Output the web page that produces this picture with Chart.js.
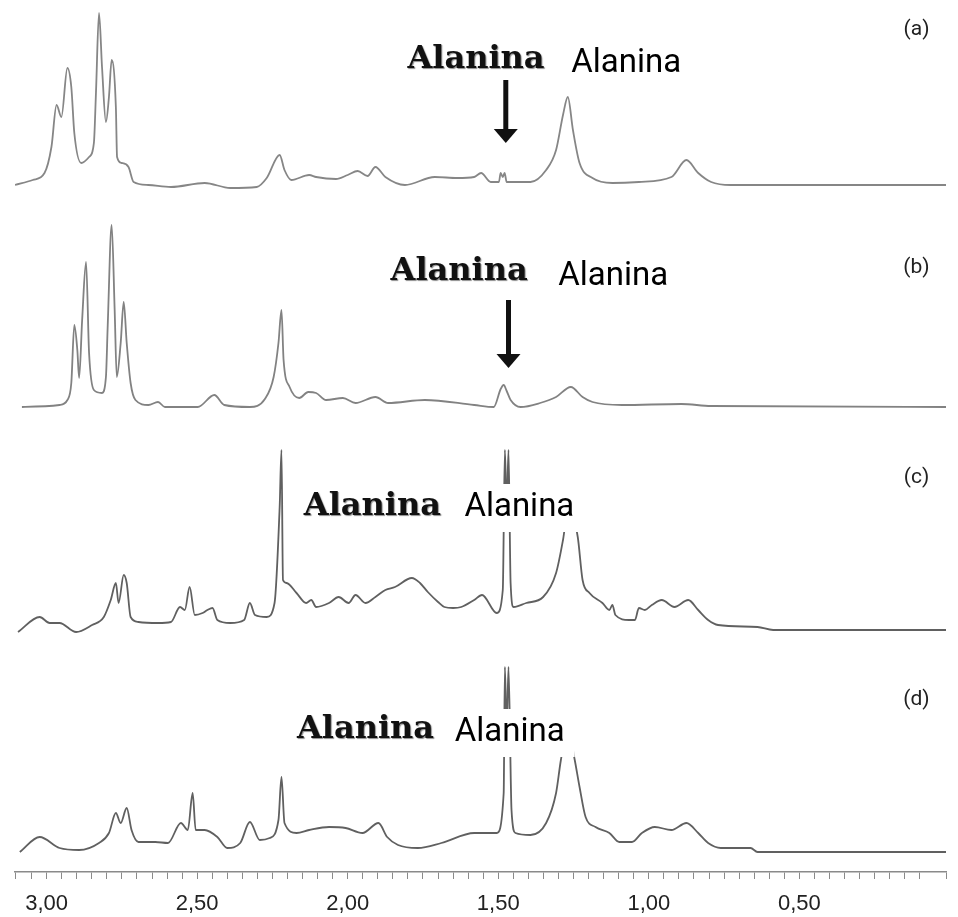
<!DOCTYPE html>
<html>
<head>
<meta charset="utf-8">
<style>
  html, body { margin: 0; padding: 0; background: #fff; }
</style>
<script src="https://cdn.jsdelivr.net/npm/chart.js@4.4.1/dist/chart.umd.min.js"></script>
</head>
<body>
<canvas id="spectra" width="958" height="917"></canvas>
<script>
// chemical shift (ppm) and intensity above each trace's own baseline

var ppmA = [3.105,3.046,3.007,2.984,2.967,2.951,2.931,2.918,2.908,2.885,2.859,2.843,2.836,2.826,2.816,2.803,2.793,2.784,2.770,2.766,2.751,2.728,2.711,2.662,2.587,2.475,2.390,2.302,2.269,2.226,2.210,2.187,2.128,2.105,2.039,2.000,1.967,1.934,1.908,1.875,1.810,1.711,1.636,1.580,1.557,1.525,1.498,1.492,1.485,1.479,1.472,1.393,1.341,1.308,1.285,1.269,1.252,1.230,1.187,1.121,1.033,0.925,0.875,0.836,0.793,0.728,0.013];
var intA = [0,5,12,38,80,68,117,98,52,22,28,42,93,172,118,63,88,125,78,28,22,18,3,0,-2,2,-3,-2,7,30,15,5,10,8,6,10,14,9,18,8,0,8,7,8,12,3,3,12,8,12,3,3,15,35,70,88,55,22,7,2,3,8,25,12,3,0,0];

var ppmB = [3.082,2.957,2.931,2.918,2.908,2.898,2.892,2.882,2.869,2.859,2.843,2.816,2.803,2.797,2.784,2.774,2.767,2.754,2.744,2.734,2.721,2.705,2.662,2.630,2.607,2.498,2.443,2.410,2.325,2.275,2.246,2.230,2.220,2.213,2.193,2.161,2.131,2.105,2.072,2.016,1.974,1.908,1.866,1.744,1.580,1.515,1.492,1.482,1.472,1.459,1.426,1.361,1.308,1.259,1.220,1.187,1.089,0.892,0.793,0.013];
var intB = [0,2,7,24,82,57,29,87,145,54,17,14,30,82,182,97,30,64,105,64,24,7,2,5,0,0,12,2,0,8,30,64,97,47,20,9,15,14,7,9,4,10,4,7,2,0,18,22,16,7,0,4,10,20,10,5,2,3,1,0];

var ppmC = [3.095,3.023,2.990,2.957,2.902,2.849,2.810,2.787,2.770,2.761,2.744,2.734,2.721,2.695,2.630,2.587,2.557,2.541,2.525,2.508,2.482,2.466,2.449,2.433,2.390,2.344,2.325,2.308,2.269,2.243,2.226,2.220,2.215,2.203,2.170,2.138,2.121,2.105,2.062,2.030,1.997,1.974,1.941,1.908,1.875,1.843,1.787,1.760,1.734,1.700,1.679,1.650,1.623,1.580,1.554,1.505,1.485,1.478,1.472,1.466,1.459,1.449,1.407,1.351,1.308,1.285,1.266,1.236,1.220,1.197,1.154,1.131,1.121,1.111,1.066,1.046,1.033,1.013,0.990,0.957,0.915,0.869,0.836,0.803,0.770,0.639,0.587,0.013];
var intC = [-2,13,7,7,-2,5,13,30,47,27,55,47,13,8,7,8,23,20,43,15,17,20,22,10,7,10,27,15,13,27,123,180,50,47,37,27,30,23,27,33,27,35,27,33,40,43,52,47,38,28,23,22,23,30,35,17,40,180,120,180,47,23,27,33,57,90,125,93,50,37,27,20,25,15,10,10,22,20,25,30,23,30,20,10,5,3,0,0];

var ppmD = [3.089,3.023,2.957,2.892,2.826,2.793,2.770,2.754,2.734,2.718,2.695,2.639,2.597,2.554,2.531,2.515,2.505,2.475,2.433,2.400,2.357,2.325,2.292,2.259,2.230,2.220,2.210,2.170,2.128,2.062,2.007,1.951,1.898,1.869,1.833,1.767,1.689,1.580,1.505,1.482,1.478,1.472,1.466,1.456,1.443,1.393,1.341,1.308,1.292,1.269,1.246,1.230,1.210,1.177,1.131,1.098,1.056,1.023,0.980,0.925,0.875,0.836,0.803,0.761,0.662,0.639,0.013];
var intD = [0,15,4,2,9,19,39,29,44,22,10,10,9,29,22,59,22,22,15,4,9,30,12,14,32,75,29,19,22,25,24,19,29,15,7,4,9,19,19,59,185,120,185,42,19,17,29,59,92,125,92,65,35,25,19,10,10,19,25,22,29,19,9,4,4,0,0];

var panelNames = ['(a)', '(b)', '(c)', '(d)'];
var peakName = 'Alanina';
var alaninePpm = [1.475, 1.466];   // arrows in (a) and (b)

// vertical stacking of the four traces (intensity units)
var offsets = [687, 465, 242, 20];

function toPoints(xs, ys, off) {
  return xs.map(function (x, i) { return { x: x, y: ys[i] + off }; });
}

var annotations = {
  id: 'annotations',
  afterDatasetsDraw: function (chart) {
    var ctx = chart.ctx;
    var sx = chart.scales.x, sy = chart.scales.y;
    var px = function (v) { return sx.getPixelForValue(v); };
    var py = function (v) { return sy.getPixelForValue(v); };
    ctx.save();

    // arrows pointing at the alanine doublet
    var arrows = [[alaninePpm[0], 792, 729], [alaninePpm[1], 572, 504]];
    ctx.fillStyle = '#111';
    ctx.strokeStyle = '#111';
    arrows.forEach(function (a) {
      var x = px(a[0]), y1 = py(a[1]), y2 = py(a[2]);
      ctx.lineWidth = 5;
      ctx.beginPath();
      ctx.moveTo(x, y1);
      ctx.lineTo(x, y2 - 10);
      ctx.stroke();
      ctx.beginPath();
      ctx.moveTo(x - 12, y2 - 14);
      ctx.lineTo(x + 12, y2 - 14);
      ctx.lineTo(x, y2);
      ctx.closePath();
      ctx.fill();
    });

    // bold serif labels
    var serif = [[1.574, 812], [1.630, 600], [1.918, 365], [1.941, 142]];
    ctx.font = 'bold 32px "DejaVu Serif"';
    ctx.textAlign = 'center';
    ctx.textBaseline = 'middle';
    ctx.shadowColor = 'rgba(0,0,0,0.45)';
    ctx.shadowOffsetX = 1;
    ctx.shadowOffsetY = 1;
    ctx.shadowBlur = 1;
    serif.forEach(function (s) {
      ctx.fillText(peakName, px(s[0]), py(s[1]));
    });
    ctx.shadowColor = 'transparent';

    // plain labels on white boxes
    var plain = [[1.075, 808], [1.118, 595], [1.430, 364], [1.462, 139]];
    ctx.font = '33px Roboto';
    plain.forEach(function (s) {
      var x = px(s[0]), y = py(s[1]);
      var w = ctx.measureText(peakName).width;
      ctx.fillStyle = '#fff';
      ctx.fillRect(x - w / 2 - 10, y - 24, w + 20, 48);
      ctx.fillStyle = '#000';
      ctx.fillText(peakName, x, y);
    });

    // panel letters
    var letters = [842, 604, 394, 172];
    ctx.font = '21px Roboto';
    ctx.fillStyle = '#222';
    letters.forEach(function (v, i) {
      ctx.fillText(panelNames[i], px(0.111), py(v));
    });
    ctx.restore();
  }
};

var series = [[ppmA, intA], [ppmB, intB], [ppmC, intC], [ppmD, intD]];
var colors = ['#868686', '#828282', '#606060', '#606060'];

var chart = new Chart(document.getElementById('spectra'), {
  type: 'line',
  data: {
    datasets: series.map(function (s, i) {
      return {
        label: panelNames[i],
        data: toPoints(s[0], s[1], offsets[i]),
        borderColor: colors[i],
        borderWidth: 1.8,
        pointRadius: 0,
        cubicInterpolationMode: 'monotone',
        fill: false
      };
    })
  },
  options: {
    responsive: false,
    animation: false,
    layout: { padding: { left: 15, right: 0, top: 0, bottom: 0 } },
    plugins: { legend: { display: false }, tooltip: { enabled: false } },
    scales: {
      x: {
        type: 'linear',
        reverse: true,
        min: 0.013,
        max: 3.105,
        border: { display: true, color: '#8a8a8a', width: 1.5 },
        grid: { drawOnChartArea: false, tickLength: 7, tickColor: '#8a8a8a', tickWidth: 1 },
        ticks: {
          stepSize: 0.05,
          autoSkip: false,
          maxRotation: 0,
          minRotation: 0,
          padding: 12,
          color: '#222',
          font: { family: '"Liberation Sans", Arial', size: 22 },
          callback: function (v) {
            if (Math.abs(v * 2 - Math.round(v * 2)) < 1e-6) return v.toFixed(2).replace('.', ',');
            return '';
          }
        },
        afterFit: function (s) { s.height = 45; }
      },
      y: { display: false, min: 0, max: 872 }
    }
  },
  plugins: [annotations]
});
</script>
</body>
</html>
